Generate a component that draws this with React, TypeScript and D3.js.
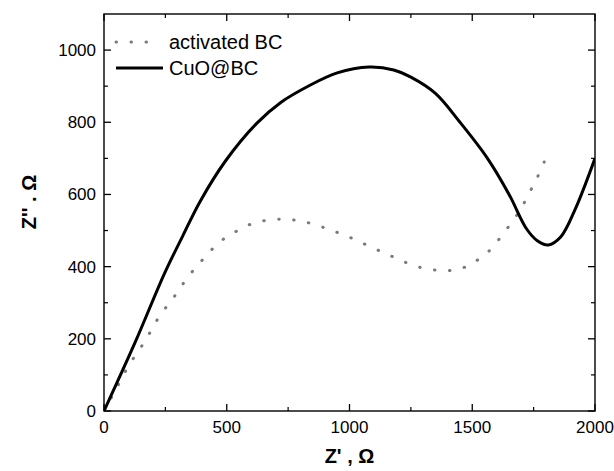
import * as d3 from 'd3'

// impedance data (Z' in ohm, Z'' in ohm)
const cuoX = [0, 128, 247, 320, 391, 494, 622, 720, 837, 950, 1080, 1180, 1250, 1350, 1450, 1562, 1650, 1721, 1765, 1810, 1860, 1920, 2000]
const cuoY = [0, 192, 382, 484, 580, 692, 797, 855, 902, 937, 953, 945, 925, 880, 800, 700, 600, 505, 472, 460, 482, 560, 700]

const bcX = [0, 50, 100, 167, 231, 274, 311, 351, 391, 434, 486, 542, 603, 670, 735, 797, 861, 925, 988, 1047, 1108, 1168, 1231, 1294, 1358, 1422, 1482, 1535, 1583, 1624, 1666, 1701, 1733, 1765, 1793]
const bcY = [0, 62, 125, 194, 268, 305, 342, 379, 411, 444, 476, 499, 519, 529, 531, 527, 516, 501, 485, 467, 448, 430, 411, 397, 390, 390, 402, 425, 453, 490, 527, 564, 605, 647, 690]

const xTicks = [0, 500, 1000, 1500, 2000]
const yTicks = [0, 200, 400, 600, 800, 1000]
const xMinor = [250, 750, 1250, 1750]
const yMinor = [100, 300, 500, 700, 900]

const legend = [
  { label: 'activated BC', dotted: true },
  { label: 'CuO@BC', dotted: false },
]

const W = 614
const H = 471
const left = 104
const right = 595
const top = 14
const bottom = 411

const App = () => {
  const x = d3.scaleLinear().domain([0, 2000]).range([left, right])
  const y = d3.scaleLinear().domain([0, 1100]).range([bottom, top])

  const line = d3.line<[number, number]>()
    .x(d => x(d[0]))
    .y(d => y(d[1]))
    .curve(d3.curveCatmullRom.alpha(0.5))

  const cuo = cuoX.map((v, i) => [v, cuoY[i]] as [number, number])
  const bc = bcX.map((v, i) => [v, bcY[i]] as [number, number])

  const font = 'Liberation Sans, Arial, sans-serif'
  const major = 7
  const minor = 4

  return (
    <svg width={W} height={H} style={{ position: 'absolute', left: 0, top: 0, background: '#fff' }}>
      <defs>
        <clipPath id='plot'>
          <rect x={left} y={top} width={right - left} height={bottom - top} />
        </clipPath>
      </defs>

      {/* data */}
      <g clipPath='url(#plot)'>
        <path d={line(bc) ?? ''} fill='none' stroke='#7a7a7a' strokeWidth={3}
          strokeDasharray='0.5 14.5' strokeLinecap='round' />
        <path d={line(cuo) ?? ''} fill='none' stroke='#000' strokeWidth={3} />
      </g>

      {/* frame */}
      <rect x={left} y={top} width={right - left} height={bottom - top} fill='none' stroke='#000' strokeWidth={1.4} />

      {/* ticks, inward on all sides */}
      {xTicks.map(t => (
        <g key={'xt' + t}>
          <line x1={x(t)} x2={x(t)} y1={bottom} y2={bottom - major} stroke='#000' strokeWidth={1.3} />
          <line x1={x(t)} x2={x(t)} y1={top} y2={top + major} stroke='#000' strokeWidth={1.3} />
          <text x={x(t)} y={bottom + 22} textAnchor='middle' fontFamily={font} fontSize={17}>{t}</text>
        </g>
      ))}
      {xMinor.map(t => (
        <g key={'xm' + t}>
          <line x1={x(t)} x2={x(t)} y1={bottom} y2={bottom - minor} stroke='#000' strokeWidth={1.2} />
          <line x1={x(t)} x2={x(t)} y1={top} y2={top + minor} stroke='#000' strokeWidth={1.2} />
        </g>
      ))}
      {yTicks.map(t => (
        <g key={'yt' + t}>
          <line x1={left} x2={left + major} y1={y(t)} y2={y(t)} stroke='#000' strokeWidth={1.3} />
          <line x1={right} x2={right - major} y1={y(t)} y2={y(t)} stroke='#000' strokeWidth={1.3} />
          <text x={left - 8} y={y(t)} dy='0.35em' textAnchor='end' fontFamily={font} fontSize={17}>{t}</text>
        </g>
      ))}
      {yMinor.map(t => (
        <g key={'ym' + t}>
          <line x1={left} x2={left + minor} y1={y(t)} y2={y(t)} stroke='#000' strokeWidth={1.2} />
          <line x1={right} x2={right - minor} y1={y(t)} y2={y(t)} stroke='#000' strokeWidth={1.2} />
        </g>
      ))}

      {/* axis titles */}
      <text x={(left + right) / 2} y={463} textAnchor='middle' fontFamily={font} fontSize={20} fontWeight='bold'>Z' , Ω</text>
      <text transform='translate(36,202) rotate(-90)' textAnchor='middle' fontFamily={font} fontSize={20} fontWeight='bold'>Z'' . Ω</text>

      {/* legend */}
      {legend.map((l, i) => (
        <g key={l.label} transform={`translate(116,${42 + i * 26})`}>
          <line x1={0} x2={l.dotted ? 42 : 47} y1={0} y2={0}
            stroke={l.dotted ? '#7a7a7a' : '#000'} strokeWidth={3}
            strokeDasharray={l.dotted ? '0.5 14.5' : undefined}
            strokeLinecap={l.dotted ? 'round' : 'butt'} />
          <text x={53} y={0} dy='0.35em' fontFamily={font} fontSize={20}>{l.label}</text>
        </g>
      ))}
    </svg>
  )
}

export default App
